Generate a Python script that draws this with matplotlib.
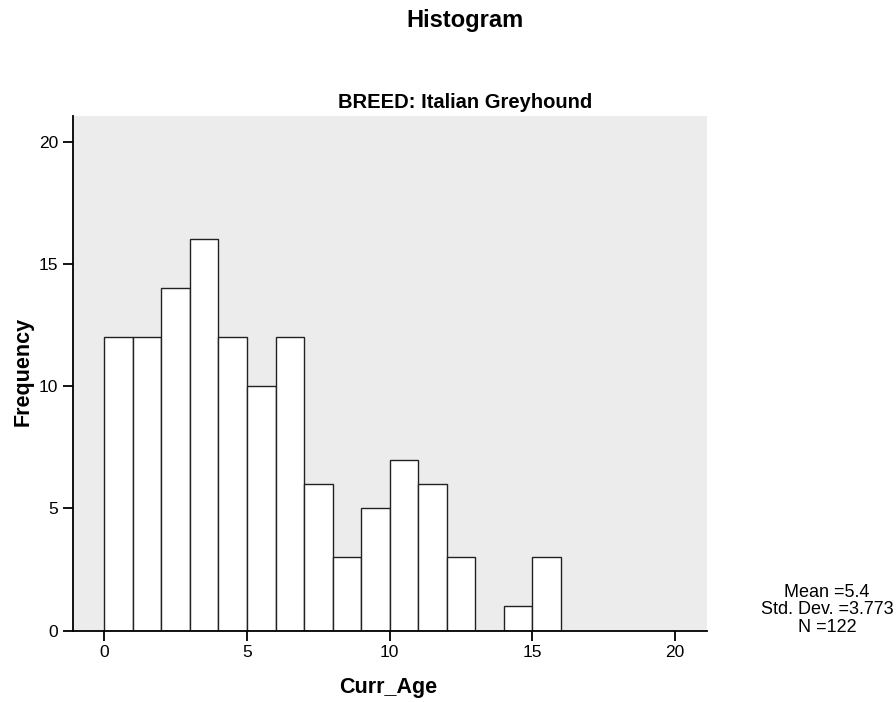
import matplotlib
matplotlib.use("Agg")
from matplotlib import pyplot as plt

# histogram of current age, one bin per year
bin_left = list(range(0, 16))
counts = [12, 12, 14, 16, 12, 10, 12, 6, 3, 5, 7, 6, 3, 0, 1, 3]
xticks = [0, 5, 10, 15, 20]
yticks = [0, 5, 10, 15, 20]
stats_text = "Mean =5.4\nStd. Dev. =3.773\nN =122"

plt.rcParams["font.family"] = ["Liberation Sans", "DejaVu Sans"]

fig = plt.figure(figsize=(8.96, 7.02), dpi=100)
ax = fig.add_axes([0.0811, 0.1016, 0.7085, 0.7332])

ax.set_facecolor("#ececec")
ax.bar(bin_left, counts, width=1, align="edge", color="white",
       edgecolor="#222222", linewidth=1.0)

ax.set_xlim(-1.107, 21.13)
ax.set_ylim(0, 21.05)
ax.set_xticks(xticks)
ax.set_yticks(yticks)

# only left and bottom axis lines like SPSS
ax.spines["top"].set_visible(False)
ax.spines["right"].set_visible(False)
ax.spines["left"].set_linewidth(1.3)
ax.spines["bottom"].set_linewidth(1.3)
ax.tick_params(axis="both", direction="out", length=7.5, width=1.3,
               labelsize=12.5, pad=3, colors="black")

# titles and axis labels placed on the figure
fig.text(465 / 896, 1 - 21 / 702, "Histogram", ha="center", va="center",
         fontsize=17, fontweight="bold")
fig.text(465 / 896, 1 - 102 / 702, "BREED: Italian Greyhound", ha="center",
         va="center", fontsize=14.5, fontweight="bold")
fig.text(23 / 896, 1 - 371 / 702, "Frequency", ha="center", va="center",
         rotation=90, fontsize=15.5, fontweight="bold")
fig.text(388 / 896, 1 - 688 / 702, "Curr_Age", ha="center", va="center",
         fontsize=15.5, fontweight="bold")

fig.text(827 / 896, 1 - 610 / 702, stats_text, ha="center", va="center",
         multialignment="center", fontsize=13, linespacing=1.07)

plt.savefig("out.png", dpi=100)
